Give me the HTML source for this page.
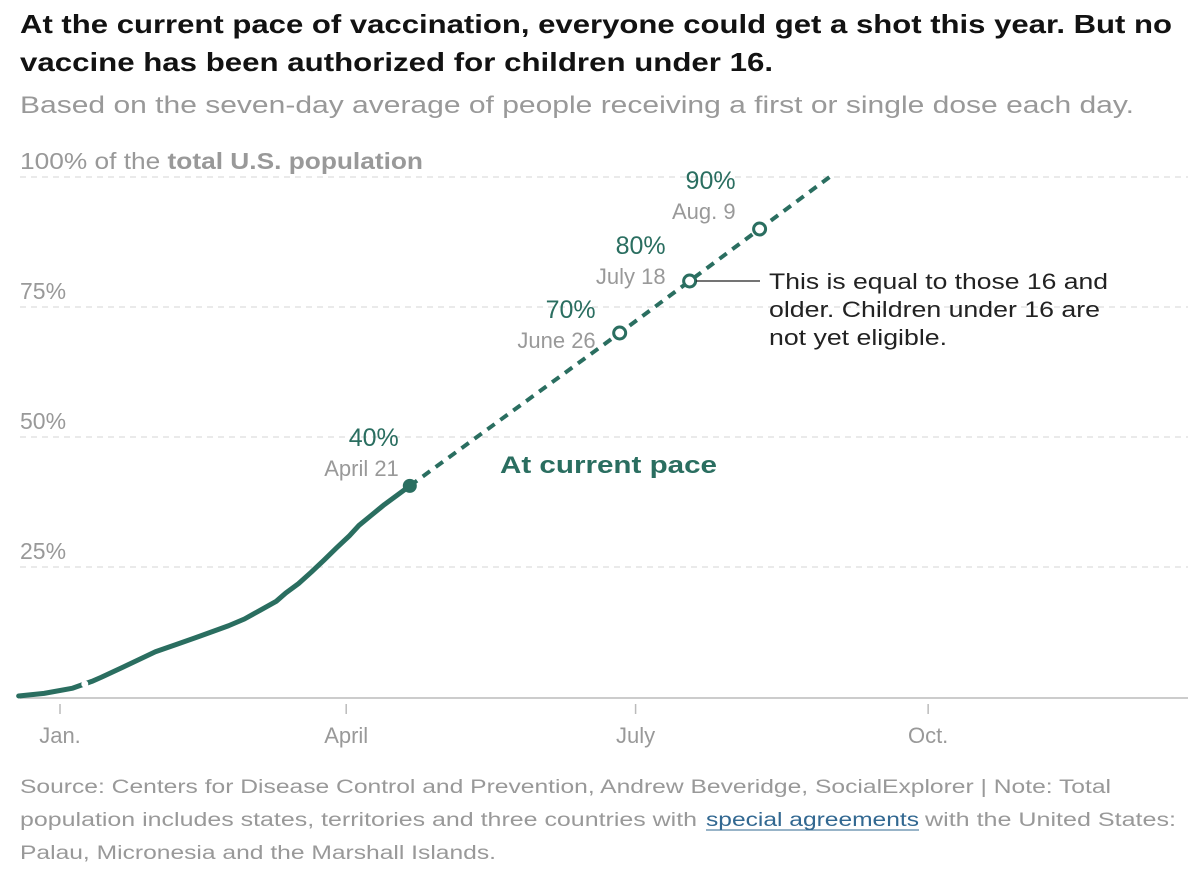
<!DOCTYPE html>
<html><head><meta charset="utf-8">
<style>
body{margin:0;background:#fff;}
svg{display:block;font-family:"Liberation Sans",sans-serif;}
</style></head><body>
<svg width="1188" height="878" viewBox="0 0 1188 878" id="chart">
<text x="20" y="33" font-size="26" font-weight="bold" fill="#121212" textLength="1152" lengthAdjust="spacingAndGlyphs">At the current pace of vaccination, everyone could get a shot this year. But no</text>
<text x="20" y="71" font-size="26" font-weight="bold" fill="#121212" textLength="753" lengthAdjust="spacingAndGlyphs">vaccine has been authorized for children under 16.</text>
<text x="20" y="113" font-size="24" fill="#999" textLength="1114" lengthAdjust="spacingAndGlyphs">Based on the seven-day average of people receiving a first or single dose each day.</text>
<g id="grid"></g>
<g id="axis"></g>
<g id="series"></g>
<g id="annotations"></g>
<line x1="696" y1="281" x2="760" y2="281" stroke="#222" stroke-width="1.3"/>
<text font-size="22" fill="#222"><tspan x="769" y="289" textLength="339" lengthAdjust="spacingAndGlyphs">This is equal to those 16 and</tspan><tspan x="769" y="317" textLength="331" lengthAdjust="spacingAndGlyphs">older. Children under 16 are</tspan><tspan x="769" y="345" textLength="178" lengthAdjust="spacingAndGlyphs">not yet eligible.</tspan></text>
<text x="500" y="473" font-size="24" font-weight="bold" fill="#2a6e60" textLength="217" lengthAdjust="spacingAndGlyphs">At current pace</text>
<text font-size="19" fill="#999"><tspan x="20" y="793" textLength="1091" lengthAdjust="spacingAndGlyphs">Source: Centers for Disease Control and Prevention, Andrew Beveridge, SocialExplorer | Note: Total</tspan><tspan x="20" y="826" textLength="684" lengthAdjust="spacingAndGlyphs">population includes states, territories and three countries with </tspan><tspan x="706" y="826" fill="#326891" textLength="213" lengthAdjust="spacingAndGlyphs">special agreements</tspan><tspan x="925" y="826" textLength="251" lengthAdjust="spacingAndGlyphs">with the United States:</tspan><tspan x="20" y="859" textLength="476" lengthAdjust="spacingAndGlyphs">Palau, Micronesia and the Marshall Islands.</tspan></text>
<line x1="706" y1="830" x2="919" y2="830" stroke="#326891" stroke-width="1"/>
</svg>
<script>
// data: days since Jan 1, percent of population
const actualDays = [-13, -5, 4, 10, 13, 20, 30, 37, 44, 53, 58, 63, 68, 71, 75, 79, 83, 87, 91, 94, 98, 102, 106, 110];
const actualPct  = [0.2, 0.7, 1.7, 3.0, 3.8, 5.8, 8.7, 10.2, 11.7, 13.7, 15.0, 16.7, 18.4, 20.0, 21.8, 24.0, 26.3, 28.7, 31.0, 33.0, 35.0, 37.0, 38.8, 40.6];
const projDays = [110, 176, 198, 220, 242];
const projPct  = [40.6, 70, 80, 90, 100];
const milestoneLabels = ["40%", "70%", "80%", "90%"];
const milestoneDates = ["April 21", "June 26", "July 18", "Aug. 9"];
const milestoneDays = [110, 176, 198, 220];
const milestonePct = [40.6, 70, 80, 90];
const yTicks = [25, 50, 75, 100];
const xTickDays = [0, 90, 181, 273];
const xTickLabels = ["Jan.", "April", "July", "Oct."];

// label layout (vertical offsets of date label baseline relative to point)
const labelDy = [-10, 15, 3, -10];

const NS = "http://www.w3.org/2000/svg";
const X = d => 60 + d * 3.18;
const Y = p => 697 - p * 5.2;
function mk(tag, attrs, parent){const e=document.createElementNS(NS,tag);for(const k in attrs)e.setAttribute(k,attrs[k]);parent.appendChild(e);return e;}
const grid=document.getElementById('grid'), axis=document.getElementById('axis'), series=document.getElementById('series'), ann=document.getElementById('annotations');

yTicks.forEach((t,i)=>{
  const l=mk('line',{x1:20,x2:1188,y1:Y(t),y2:Y(t),stroke:'#ddd','stroke-width':1.3,'stroke-dasharray':'6 5'},grid);
  
  
  const tx=mk('text',{x:20,y:Y(t)-8,'font-size':23,fill:'#999'},grid);
  
  
  if(t===100){tx.setAttribute('textLength','403');tx.setAttribute('lengthAdjust','spacingAndGlyphs');tx.innerHTML='100% of the <tspan font-weight="bold">total U.S. population</tspan>';}
  else tx.textContent=t+'%';
});
const base=mk('line',{x1:20,x2:1188,y1:698,y2:698,stroke:'#ccc','stroke-width':2},axis);


xTickDays.forEach((d,i)=>{
  const tk=mk('line',{x1:X(d),x2:X(d),y1:704,y2:714,stroke:'#bbb','stroke-width':1.5},axis);
  
  
  const tl=mk('text',{x:X(d),y:743,'font-size':22,fill:'#999','text-anchor':'middle'},axis);
  
  
  tl.textContent=xTickLabels[i];
});
const pts=actualDays.map((d,i)=>X(d)+','+Y(actualPct[i]));
const act=mk('polyline',{points:pts.join(' '),fill:'none',stroke:'#2a6e60','stroke-width':5,'stroke-linejoin':'round','stroke-linecap':'round'},series);


const gap=mk('circle',{cx:X(7.8),cy:Y(2.5),r:3.5,fill:'#fff'},series);


const proj=mk('polyline',{points:projDays.map((d,i)=>X(d)+','+Y(projPct[i])).join(' '),fill:'none',stroke:'#2a6e60','stroke-width':4,'stroke-dasharray':'9 7'},series);


milestoneDays.forEach((d,i)=>{
  const c=mk('circle',{cx:X(d),cy:Y(milestonePct[i]),r:i===0?7:6,fill:i===0?'#2a6e60':'#fff',stroke:'#2a6e60','stroke-width':i===0?0:3},series);
  
  
  const ax=X(d)-(i===0?11:24), ay=Y(milestonePct[i])+labelDy[i];
  const p=mk('text',{x:ax,y:ay-30,'font-size':25,fill:'#2a6e60','text-anchor':'end'},ann);
  
  
  p.textContent=milestoneLabels[i];
  const dt=mk('text',{x:ax,y:ay,'font-size':22,fill:'#999','text-anchor':'end'},ann);
  
  
  dt.textContent=milestoneDates[i];
});
</script>
</body></html>
